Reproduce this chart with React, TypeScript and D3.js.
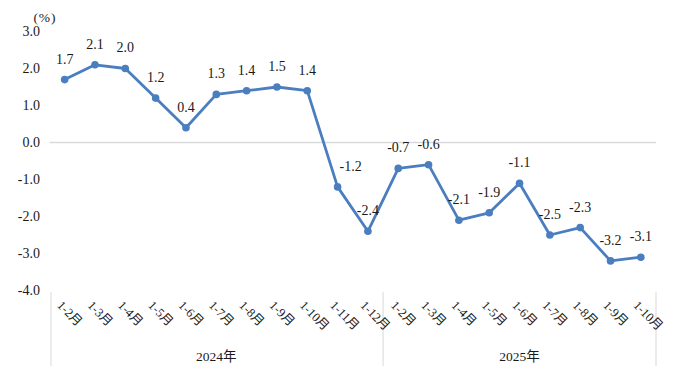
import React from "react";
import * as d3 from "d3";

const months2024 = ["1-2月", "1-3月", "1-4月", "1-5月", "1-6月", "1-7月", "1-8月", "1-9月", "1-10月", "1-11月", "1-12月"];
const months2025 = ["1-2月", "1-3月", "1-4月", "1-5月", "1-6月", "1-7月", "1-8月", "1-9月", "1-10月"];
const values2024 = [1.7, 2.1, 2.0, 1.2, 0.4, 1.3, 1.4, 1.5, 1.4, -1.2, -2.4];
const values2025 = [-0.7, -0.6, -2.1, -1.9, -1.1, -2.5, -2.3, -3.2, -3.1];
const years = ["2024年", "2025年"];
const yTicks = [3, 2, 1, 0, -1, -2, -3, -4];

const W = 682;
const H = 383;
const FONT = "'Liberation Serif', 'Times New Roman', 'Noto Sans CJK SC', serif";
const LINE = "#4a7ebf";

export default function App() {
  const cats = [
    ...months2024.map((m, i) => ({ key: `2024-${i}`, label: m, value: values2024[i], year: 0 })),
    ...months2025.map((m, i) => ({ key: `2025-${i}`, label: m, value: values2025[i], year: 1 })),
  ];
  const x = d3.scaleBand<string>().domain(cats.map((c) => c.key)).range([49.5, 656]).padding(0);
  const y = d3.scaleLinear().domain([-4, 3]).range([290.5, 31.5]);
  const cx = (k: string) => (x(k) as number) + x.bandwidth() / 2;

  const line = d3
    .line<(typeof cats)[number]>()
    .x((d) => cx(d.key))
    .y((d) => y(d.value));

  const labelShift: Record<number, number> = { 9: 13 };
  const groupBounds = [
    [x(cats[0].key) as number, x(cats[months2024.length].key) as number],
    [x(cats[months2024.length].key) as number, 656],
  ];

  return (
    <svg width={W} height={H} style={{ position: "absolute", left: 0, top: 0, background: "#fff" }} fontFamily={FONT}>
      <line x1={49.5} x2={656} y1={y(0)} y2={y(0)} stroke="#d9d9d9" strokeWidth={1.5} />
      {yTicks.map((t) => (
        <text key={t} x={40} y={y(t)} dy="0.35em" textAnchor="end" fontSize={14} fill="#1a1a1a">
          {d3.format(".1f")(t).replace("−", "-")}
        </text>
      ))}
      <text x={45} y={17} dy="0.35em" textAnchor="middle" fontSize={13.5} fill="#1a1a1a" letterSpacing={1}>
        (%)
      </text>
      {[groupBounds[0][0] + 1.5, groupBounds[0][1], groupBounds[1][1]].map((gx, i) => (
        <line key={i} x1={gx} x2={gx} y1={292} y2={366} stroke="#d9d9d9" strokeWidth={1} />
      ))}
      {cats.map((c) => (
        <text
          key={c.key}
          transform={`translate(${cx(c.key) - 5},${303}) rotate(45)`}
          fontSize={12.5}
          fill="#1a1a1a"
          dy="0.35em"
        >
          {c.label}
        </text>
      ))}
      {years.map((yr, i) => (
        <text key={yr} x={(groupBounds[i][0] + groupBounds[i][1]) / 2} y={356} dy="0.35em" textAnchor="middle" fontSize={13.5} fill="#1a1a1a">
          {yr}
        </text>
      ))}
      <path d={line(cats) || ""} fill="none" stroke={LINE} strokeWidth={2.8} strokeLinejoin="round" />
      {cats.map((c) => (
        <circle key={c.key} cx={cx(c.key)} cy={y(c.value)} r={3.8} fill={LINE} />
      ))}
      {cats.map((c, i) => (
        <text
          key={c.key}
          x={cx(c.key) + (labelShift[i] || 0)}
          y={y(c.value) - 21}
          dy="0.35em"
          textAnchor="middle"
          fontSize={14}
          fill="#1a1a1a"
        >
          {d3.format(".1f")(c.value).replace("−", "-")}
        </text>
      ))}
    </svg>
  );
}
